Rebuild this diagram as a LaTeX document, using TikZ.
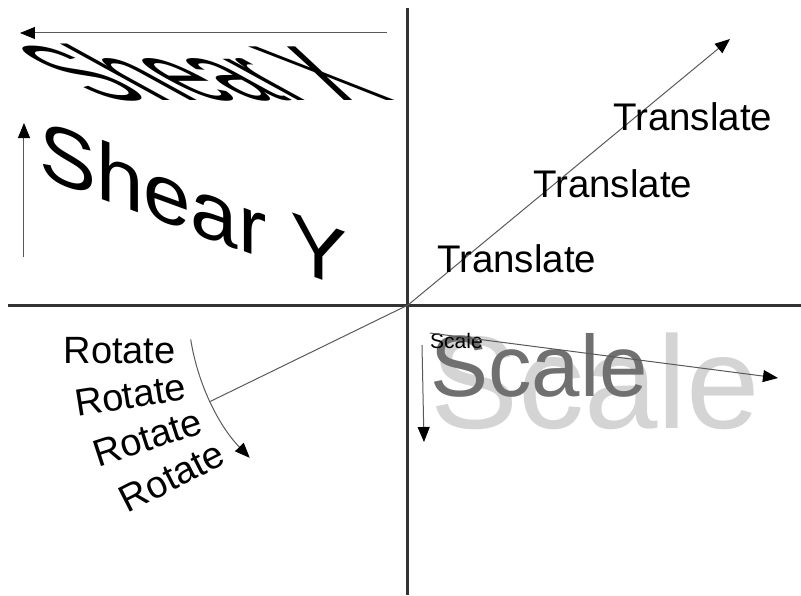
\documentclass[tikz,border=0pt]{standalone}
\usepackage{fontspec}
\setmainfont{Liberation Sans}
\usetikzlibrary{arrows.meta}
\tikzset{
  axis/.style={line width=3pt, black!80},
  move/.style={line width=1pt, black!65, -{Triangle[length=15pt,width=12pt,color=black]}},
  word/.style={inner sep=0pt, font=\fontsize{#1}{#1}\selectfont},
}
\begin{document}
\begin{tikzpicture}[x=1pt, y=1pt]
  \useasboundingbox (-408,-290) rectangle (393,305);
  \coordinate (O) at (0,0);
  \draw[axis] (0,297) -- (0,-290);
  \draw[axis] (-400,0) -- (393,0);

  % translate
  \coordinate (trtip) at (322,266);
  \draw[move] (O) -- (trtip);
  \foreach \x/\y [count=\i] in {29/33, 125/108, 205/175}
    \node[word=38.5, anchor=base west] (trans\i) at (\x,\y) {Translate};

  % shear in x and y
  \node[word=78, anchor=base west, xscale=1.04, xslant=-1.75] (shx) at (-305,205) {Shear X};
  \coordinate (shxa) at (-21,272);
  \coordinate (shxb) at (-388,272);
  \draw[move] (shxa) -- (shxb);
  \node[word=82, anchor=base west, xscale=1.04, yslant=-0.38] (shy) at (-369,128.5) {Shear Y};
  \coordinate (shya) at (-384,48);
  \coordinate (shyb) at (-384,182);
  \draw[move] (shya) -- (shyb);

  % rotate about the origin
  \foreach \i in {0,...,3}
    \node[word=38, rotate=9*\i] (rot\i) at (189+9*\i:292) {Rotate};
  \coordinate (rs) at (189:220);
  \coordinate (rr) at (206:220);
  \draw[move] (rs) arc[start angle=189, end angle=224, radius=220];
  \draw[move, -] (O) -- (rr);

  % scale from the top left corner
  \coordinate (sc) at (22,-28);
  \foreach \s/\c in {132/black!17, 87/black!56, 21/black}
    \node[word=\s, text=\c, anchor=north west] (scale\s) at (sc) {Scale};
  \coordinate (scr) at (370,-73);
  \coordinate (scda) at (14,-40);
  \coordinate (scdb) at (16,-137);
  \draw[move] (sc) -- (scr);
  \draw[move] (scda) -- (scdb);
\end{tikzpicture}
\end{document}
